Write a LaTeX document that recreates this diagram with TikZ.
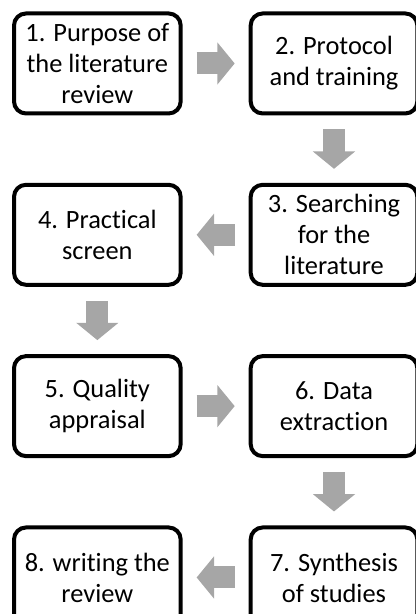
\documentclass[tikz,border=0pt]{standalone}
\usepackage{fontspec}
\setmainfont[Ligatures={NoCommon}]{Carlito}
\usetikzlibrary{positioning,arrows.meta}
\definecolor{arrowgray}{RGB}{166,166,166}

\begin{document}
\begin{tikzpicture}[
          stage/.style={rectangle, rounded corners=9pt, draw, line width=3pt,
            minimum width=125pt, minimum height=75pt, inner sep=0pt,
            align=center, font=\fontsize{19.8}{23.2}\selectfont},
          flow/.style={draw=arrowgray, line width=16.5pt,
            -{Triangle[width=31pt,length=13pt]},
            shorten <=10.5pt, shorten >=10.5pt},
          node distance=50.5pt and 49.5pt
        ]
        \useasboundingbox (0,0) rectangle (312pt,-460.5pt);

        % Left and right columns, snaking down
        \node[stage] (s1) at (73pt,-47.6pt) {1. Purpose of\\the literature\\review};
        \node[stage, right=of s1] (s2) {2. Protocol\\and training};
        \node[stage, below=of s2] (s3) {3. Searching\\for the\\literature};
        \node[stage, below=of s1] (s4) {4. Practical\\screen};
        \node[stage, below=of s4] (s5) {5. Quality\\appraisal};
        \node[stage, right=of s5] (s6) {6. Data\\extraction};
        \node[stage, below=of s6] (s7) {7. Synthesis\\of studies};
        \node[stage, below=of s5] (s8) {8. writing the\\review};

        % Block arrows between the steps
        \draw[flow] (s1) -- (s2);
        \draw[flow] (s2) -- (s3);
        \draw[flow] (s3) -- (s4);
        \draw[flow] (s4) -- (s5);
        \draw[flow] (s5) -- (s6);
        \draw[flow] (s6) -- (s7);
        \draw[flow] (s7) -- (s8);

      \end{tikzpicture}
\end{document}
